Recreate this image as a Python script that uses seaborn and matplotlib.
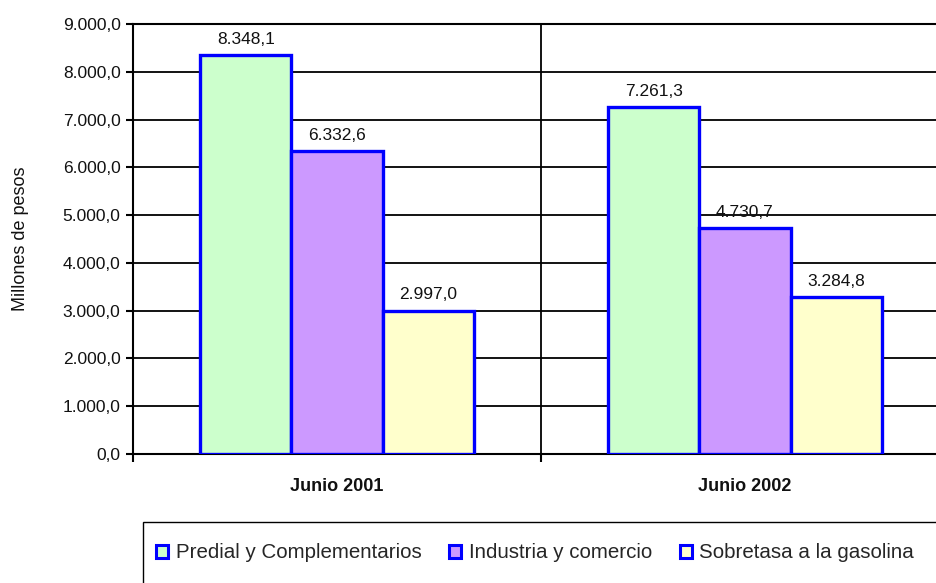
import matplotlib
matplotlib.use("Agg")
import matplotlib.pyplot as plt
import seaborn as sns
import pandas as pd
from matplotlib.patches import Patch, Rectangle

periods = ["Junio 2001", "Junio 2002"]
concepts = ["Predial y Complementarios", "Industria y comercio", "Sobretasa a la gasolina"]
predial = [8348.1, 7261.3]
industria = [6332.6, 4730.7]
sobretasa = [2997.0, 3284.8]
colors = ["#CCFFCC", "#CC99FF", "#FFFFCC"]
yticks = [0, 1000, 2000, 3000, 4000, 5000, 6000, 7000, 8000, 9000]


def es_fmt(v):
    s = f"{v:,.1f}"
    return s.replace(",", "X").replace(".", ",").replace("X", ".")


rows = []
for name, vals in zip(concepts, [predial, industria, sobretasa]):
    for p, v in zip(periods, vals):
        rows.append({"Periodo": p, "Concepto": name, "Valor": v})
df = pd.DataFrame(rows)

sns.set_style("white")
plt.rcParams["font.family"] = ["Liberation Sans", "DejaVu Sans"]

fig = plt.figure(figsize=(9.37, 5.83), dpi=100)
ax = fig.add_axes([133 / 937, 1 - 454 / 583, (949 - 133) / 937, (454 - 24) / 583])

sns.barplot(data=df, x="Periodo", y="Valor", hue="Concepto", order=periods,
            hue_order=concepts, palette=colors, edgecolor="#0000FF",
            linewidth=2.4, width=0.67, gap=0, errorbar=None, legend=False,
            saturation=1, ax=ax, zorder=3)

for cont, vals in zip(ax.containers, [predial, industria, sobretasa]):
    ax.bar_label(cont, labels=[es_fmt(v) for v in vals], padding=6,
                 fontsize=12.5, color="#111111")

ax.set_xlim(-0.5, 1.5)
ax.set_ylim(0, 9000)
ax.set_yticks(yticks)
ax.set_yticklabels([es_fmt(v) for v in yticks], fontsize=12.5, color="#111111")
ax.yaxis.grid(True, color="black", linewidth=1.3, zorder=0)
ax.set_axisbelow(True)

ax.set_xticks(range(len(periods)))
ax.set_xticklabels(periods, fontsize=13, fontweight="bold", color="#111111")
ax.tick_params(axis="x", which="major", length=0, pad=17)
ax.set_xticks([-0.5, 0.5, 1.5], minor=True)
ax.tick_params(axis="x", which="minor", length=6, width=1.5, color="black",
               direction="out", bottom=True)
ax.axvline(0.5, color="black", linewidth=1.3, zorder=1)
ax.tick_params(axis="y", length=5, width=1.5, color="black", direction="out",
               left=True, pad=4)

ax.set_xlabel("")
ax.set_ylabel("Millones de pesos", fontsize=13, color="#111111")
ax.yaxis.set_label_coords((29 - 133) / 816, 0.5)

for side in ["left", "bottom", "top", "right"]:
    ax.spines[side].set_visible(True)
    ax.spines[side].set_color("black")
    ax.spines[side].set_linewidth(1.5)

# legend
handles = [Patch(facecolor=c, edgecolor="#0000FF", linewidth=2.2) for c in colors]
fig.legend(handles, concepts, loc="center left",
           bbox_to_anchor=(156 / 937, 1 - 553 / 583), ncol=3, frameon=False,
           fontsize=14.8, handlelength=0.6, handleheight=0.6,
           handletextpad=0.35, columnspacing=1.35, borderaxespad=0,
           borderpad=0)
fig.patches.append(Rectangle((143 / 937, -0.05), 1.0, 0.05 + 1 - 522 / 583,
                             transform=fig.transFigure, fill=False,
                             edgecolor="black", linewidth=1.0))

fig.savefig("out.png", dpi=100)
